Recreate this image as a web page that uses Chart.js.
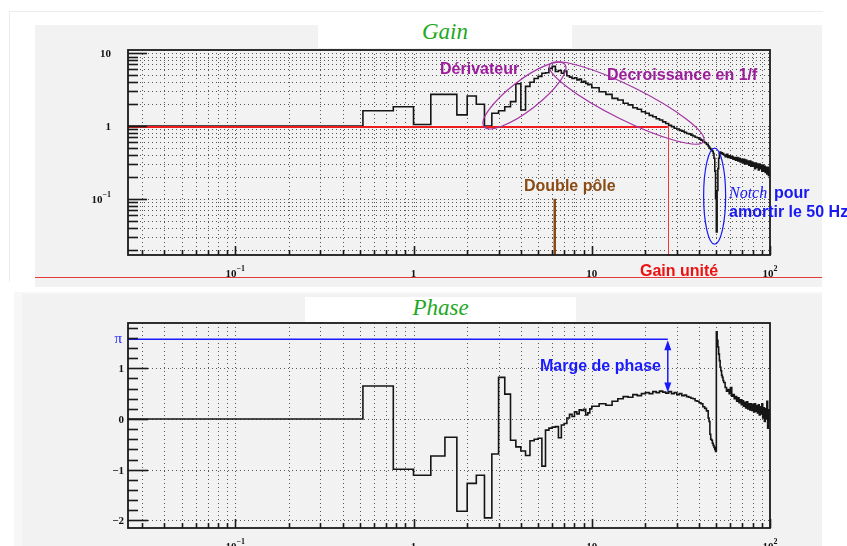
<!DOCTYPE html>
<html><head><meta charset="utf-8">
<script src="https://cdn.jsdelivr.net/npm/chart.js@4.4.0/dist/chart.umd.min.js"></script>
<style>
html,body{margin:0;padding:0;background:#fff;width:847px;height:546px;overflow:hidden;position:relative}
.abs{position:absolute}
canvas{position:absolute;left:0;top:0}
.ttl{position:absolute;text-align:center;font-family:"Liberation Serif","Times New Roman",serif;font-style:italic;color:#22a822}
</style></head><body>
<div class="abs" style="left:9px;top:11px;width:813px;height:270px;border-left:1px solid #ececec;border-top:1px solid #ececec"></div>
<div class="abs" style="left:35px;top:25px;width:787px;height:262px;background:#f2f2f2"></div>
<div class="abs" style="left:35px;top:277px;width:787px;height:1px;background:#e23a3a"></div>
<div class="abs" style="left:14px;top:292px;width:808px;height:254px;background:#f7f7f7"></div>
<div class="abs" style="left:22px;top:294px;width:800px;height:252px;background:#f2f2f2"></div>
<div class="abs" style="left:318px;top:25px;width:254px;height:23px;background:#fff"></div>
<div class="abs" style="left:305px;top:297px;width:271px;height:25px;background:#fff"></div>
<div class="ttl" style="left:318px;top:18px;width:254px;height:28px;line-height:28px;font-size:23px">Gain</div>
<div class="ttl" style="left:305px;top:294px;width:271px;height:28px;line-height:28px;font-size:23px">Phase</div>
<canvas id="gain" width="847" height="546"></canvas>
<canvas id="phase" width="847" height="546"></canvas>
<script>
// ---- data (histogram bins: left edge in Hz, value) ----
const freq = [0.025, 0.52, 0.77, 1, 1.25, 1.5, 1.75, 2, 2.25, 2.5, 2.75, 3, 3.25, 3.5, 3.75, 4, 4.25, 4.5, 4.75, 5,
  5.25, 5.5, 5.75, 6, 6.25, 6.5, 6.75, 7, 7.25, 7.5, 7.75, 8, 8.25, 8.5, 8.75, 9, 9.25, 9.5, 9.75,
  10, 11, 12, 13, 14, 15, 16, 17, 18, 19, 20, 21, 22, 23, 24, 25, 26, 27, 28, 29, 30, 31, 32, 33, 34, 35,
  36, 37, 38, 39, 40, 41, 42, 43, 44, 45,
  45.5, 46, 46.5, 47, 47.5, 48, 48.5, 49, 49.5, 50, 50.5, 51, 51.5, 52, 52.5, 53, 53.5, 54, 54.5,
  55, 56, 57, 58, 59, 60, 61, 62, 63, 64, 65, 66, 67, 68, 69, 70, 71, 72, 73, 74, 75, 76, 77,
  78, 79, 80, 81, 82, 83, 84, 85, 86, 87, 88, 89, 90, 91, 92, 93, 94, 95, 96, 97, 98, 99, 100];

const gainValues = [1.0, 1.62, 1.84, 1.05, 2.72, 2.72, 1.42, 2.58, 1.99, 1.0, 1.50, 1.62, 1.84, 2.16, 3.8, 1.66,
  3.5, 4.0, 4.5, 4.8, 5.3, 5.4, 6.2, 6.6, 5.6, 5.8, 5.3, 5.7, 4.9, 4.7, 4.5, 4.6, 4.3, 4.4, 4.0, 4.1, 3.85, 3.7, 3.75,
  3.35, 2.95, 2.72, 2.40, 2.28, 2.05, 1.95, 1.78, 1.70, 1.57, 1.50, 1.40, 1.34, 1.26, 1.21, 1.14, 1.08, 1.02,
  0.98, 0.93, 0.91, 0.87, 0.85, 0.82, 0.79, 0.78, 0.75, 0.73, 0.70, 0.69, 0.66, 0.64, 0.61, 0.59, 0.56, 0.53,
  0.51, 0.49, 0.48, 0.46, 0.45, 0.42, 0.36, 0.24, 0.10, 0.035, 0.13, 0.26, 0.36, 0.43, 0.44, 0.42, 0.43, 0.41, 0.42,
  0.40, 0.38, 0.41, 0.37, 0.39, 0.36, 0.38, 0.35, 0.37, 0.34, 0.37, 0.33, 0.36, 0.32, 0.35, 0.31, 0.35, 0.30,
  0.34, 0.30, 0.33, 0.29, 0.33, 0.28, 0.32, 0.28, 0.31, 0.26, 0.31, 0.27, 0.30, 0.25, 0.30, 0.26, 0.29, 0.24,
  0.29, 0.24, 0.28, 0.23, 0.27, 0.22, 0.27, 0.21, 0.25, 0.23];

const phaseValues = [0, 0.65, -0.99, -1.11, -0.73, -0.36, -1.82, -1.27, -1.11, -1.95, -0.69, 0.82, 0.49, -0.42,
  -0.55, -0.63, -0.72, -0.43, -0.40, -0.38, -0.93, -0.22, -0.18, -0.16, -0.15, -0.37, -0.12, -0.09, 0.02, 0.09,
  0.05, 0.14, 0.10, 0.18, 0.17, 0.19, 0.08, 0.12, 0.20,
  0.25, 0.30, 0.27, 0.35, 0.40, 0.44, 0.43, 0.48, 0.46, 0.50, 0.52, 0.50, 0.54, 0.52, 0.55, 0.53, 0.51, 0.54,
  0.50, 0.52, 0.48, 0.50, 0.46, 0.47, 0.44, 0.43, 0.41, 0.40, 0.36, 0.35, 0.32, 0.30, 0.24, 0.21, 0.16, 0.02,
  -0.05, -0.30, -0.40, -0.42, -0.48, -0.52, -0.56, -0.60, -0.64, 1.72, 1.55, 1.42, 1.28, 1.15, 1.02, 0.95, 0.86, 0.82, 0.76,
  0.72, 0.62, 0.55, 0.58, 0.50, 0.62, 0.45, 0.48, 0.40, 0.44, 0.35, 0.42, 0.32, 0.38, 0.28, 0.36, 0.25, 0.33,
  0.22, 0.34, 0.20, 0.30, 0.18, 0.30, 0.17, 0.28, 0.14, 0.30, 0.15, 0.26, 0.12, 0.28, 0.08, 0.24, 0.10, 0.30,
  0.02, 0.22, -0.05, 0.20, 0.00, 0.35, -0.18, 0.18, -0.05, 0.10];

// tick labels
const freqTicks = [0.1, 1, 10, 100];
const freqTickLabels = [['10', '\u22121'], ['1', ''], ['10', ''], ['10', '2']];
const gainTicks = [0.1, 1, 10];
const gainTickLabels = [['10', '\u22121'], ['1', ''], ['10', '']];
const phaseTicks = [-2, -1, 0, 1];
const phaseTickLabels = ['\u22122', '\u22121', '0', '1'];
const unityGainFreq = 26.7;
const doublePoleFreq = 6.2;
const phaseAtUnity = 0.52;

// ---- helpers ----
function logSteps(min, max) {
  const out = [];
  for (let d = Math.floor(Math.log10(min)); d <= Math.ceil(Math.log10(max)); d++) {
    for (let m = 1; m <= 9; m++) {
      const v = m * Math.pow(10, d);
      if (v >= min * 0.9999 && v <= max * 1.0001) out.push({ v, major: m === 1 });
    }
  }
  return out;
}
function linSteps(min, max, step, majorEvery) {
  const out = [];
  for (let k = Math.ceil(min / step - 1e-6); k * step <= max + 1e-9; k++) {
    out.push({ v: k * step, major: Math.abs(k % majorEvery) === 0 });
  }
  return out;
}
function drawGrid(chart, xs, ys) {
  const { ctx, chartArea: a, scales: { x, y } } = chart;
  ctx.save();
  ctx.beginPath(); ctx.rect(a.left, a.top, a.right - a.left, a.bottom - a.top); ctx.clip();
  ctx.strokeStyle = '#555'; ctx.lineWidth = 1; ctx.setLineDash([1, 3]);
  for (const t of xs) {
    const px = Math.round(x.getPixelForValue(t.v)) + 0.5;
    ctx.beginPath(); ctx.moveTo(px, a.bottom); ctx.lineTo(px, a.top); ctx.stroke();
  }
  for (const t of ys) {
    const py = Math.round(y.getPixelForValue(t.v)) + 0.5;
    ctx.beginPath(); ctx.moveTo(a.left, py); ctx.lineTo(a.right, py); ctx.stroke();
  }
  ctx.restore();
}
function drawFrameTicks(chart, xs, ys, yMajLen, yMinLen) {
  const { ctx, chartArea: a, scales: { x, y } } = chart;
  ctx.save();
  ctx.strokeStyle = '#1a1a1a'; ctx.lineWidth = 1.6;
  for (const t of ys) {
    const py = Math.round(y.getPixelForValue(t.v)) + 0.5;
    ctx.beginPath(); ctx.moveTo(a.left, py); ctx.lineTo(a.left + (t.major ? yMajLen : yMinLen), py); ctx.stroke();
  }
  for (const t of xs) {
    const px = Math.round(x.getPixelForValue(t.v)) + 0.5;
    ctx.beginPath(); ctx.moveTo(px, a.bottom); ctx.lineTo(px, a.bottom - (t.major ? 9 : 5)); ctx.stroke();
  }
  ctx.lineWidth = 1.8;
  ctx.strokeRect(a.left, a.top, a.right - a.left, a.bottom - a.top);
  ctx.restore();
}
function powLabel(ctx, base, exp, x, baseline, align, color) {
  const bf = 'bold 11px "Liberation Serif"', ef = 'bold 8px "Liberation Serif"';
  ctx.font = bf; const wb = ctx.measureText(base).width;
  ctx.font = ef; const we = exp ? ctx.measureText(exp).width : 0;
  const total = wb + we;
  const sx = align === 'right' ? x - total : x - total / 2;
  ctx.fillStyle = color || '#111'; ctx.textAlign = 'left'; ctx.textBaseline = 'alphabetic';
  ctx.font = bf; ctx.fillText(base, sx, baseline);
  if (exp) { ctx.font = ef; ctx.fillText(exp, sx + wb, baseline - 6); }
}
function txt(ctx, s, x, y, font, color) {
  ctx.font = font; ctx.fillStyle = color; ctx.textAlign = 'left'; ctx.textBaseline = 'alphabetic';
  ctx.fillText(s, x, y);
}
const SANS = '"Liberation Sans", Arial, sans-serif';

// ---- gain decorations ----
const gainDecor = {
  id: 'gainDecor',
  beforeDatasetsDraw(chart) {
    const { scales: { x, y } } = chart;
    drawGrid(chart, logSteps(x.min, x.max), logSteps(y.min, y.max));
  },
  afterDatasetsDraw(chart) {
    const { ctx, chartArea: a, scales: { x, y } } = chart;
    const xu = x.getPixelForValue(unityGainFreq), y1 = y.getPixelForValue(1);
    ctx.save();
    ctx.strokeStyle = '#ee1c1c'; ctx.lineWidth = 2;
    ctx.beginPath(); ctx.moveTo(a.left, y1 + 1); ctx.lineTo(xu, y1 + 1); ctx.stroke();
    ctx.lineWidth = 1; ctx.strokeStyle = '#f03a3a';
    ctx.beginPath(); ctx.moveTo(Math.round(xu) + 0.5, y1); ctx.lineTo(Math.round(xu) + 0.5, a.bottom); ctx.stroke();
    const xp = x.getPixelForValue(doublePoleFreq);
    ctx.strokeStyle = '#8a4a14'; ctx.lineWidth = 2.5;
    ctx.beginPath(); ctx.moveTo(xp, y.getPixelForValue(0.1)); ctx.lineTo(xp, a.bottom); ctx.stroke();
    ctx.strokeStyle = '#a334a3'; ctx.lineWidth = 1.2;
    ctx.beginPath(); ctx.ellipse(x.getPixelForValue(4.19), y.getPixelForValue(2.62), 51, 15, -0.656, 0, Math.PI * 2); ctx.stroke();
    ctx.beginPath(); ctx.ellipse(x.getPixelForValue(15.7), y.getPixelForValue(2.07), 86, 17, 0.46, 0, Math.PI * 2); ctx.stroke();
    ctx.strokeStyle = '#1818f0';
    ctx.beginPath(); ctx.ellipse(x.getPixelForValue(48.9), y.getPixelForValue(0.109), 11, 48, 0, 0, Math.PI * 2); ctx.stroke();
    ctx.restore();
    drawFrameTicks(chart, logSteps(x.min, x.max), logSteps(y.min, y.max), 19, 10);
    gainTicks.forEach((v, i) => powLabel(ctx, gainTickLabels[i][0], gainTickLabels[i][1], 111, y.getPixelForValue(v) + 4, 'right'));
    freqTicks.forEach((v, i) => powLabel(ctx, freqTickLabels[i][0], freqTickLabels[i][1], x.getPixelForValue(v), a.bottom + 22, 'center'));
    const B16 = 'bold 16px ' + SANS;
    txt(ctx, 'Dérivateur', 440, 74, B16, '#9c1c9c');
    txt(ctx, 'Décroissance en 1/f', 607, 80, B16, '#9c1c9c');
    txt(ctx, 'Double pôle', 524, 191, B16, '#8a4a14');
    txt(ctx, 'Gain unité', 640, 276, B16, '#ee1111');
    txt(ctx, 'Notch', 729, 198, 'italic 16px "Liberation Serif", serif', '#1818f0');
    txt(ctx, 'pour', 774, 198, B16, '#1818f0');
    txt(ctx, 'amortir le 50 Hz', 729, 217, B16, '#1818f0');
  }
};

// ---- phase decorations ----
const phaseDecor = {
  id: 'phaseDecor',
  beforeDatasetsDraw(chart) {
    const { scales: { x, y } } = chart;
    drawGrid(chart, logSteps(x.min, x.max), phaseTicks.map(v => ({ v, major: true })));
  },
  afterDatasetsDraw(chart) {
    const { ctx, chartArea: a, scales: { x, y } } = chart;
    const xu = x.getPixelForValue(unityGainFreq);
    const yPi = y.getPixelForValue(Math.PI / 2), yM = y.getPixelForValue(phaseAtUnity);
    ctx.save();
    ctx.strokeStyle = '#1a1aff'; ctx.fillStyle = '#1a1aff'; ctx.lineWidth = 1.5;
    ctx.beginPath(); ctx.moveTo(a.left, yPi); ctx.lineTo(xu, yPi); ctx.stroke();
    ctx.beginPath(); ctx.moveTo(xu, yPi + 6); ctx.lineTo(xu, yM - 6); ctx.stroke();
    ctx.beginPath(); ctx.moveTo(xu, yPi + 1); ctx.lineTo(xu - 3.5, yPi + 11); ctx.lineTo(xu + 3.5, yPi + 11); ctx.closePath(); ctx.fill();
    ctx.beginPath(); ctx.moveTo(xu, yM); ctx.lineTo(xu - 3.5, yM - 10); ctx.lineTo(xu + 3.5, yM - 10); ctx.closePath(); ctx.fill();
    ctx.restore();
    drawFrameTicks(chart, logSteps(x.min, x.max), linSteps(y.min, y.max, 0.2, 5), 20, 10);
    ctx.save();
    ctx.font = 'bold 11px "Liberation Serif"'; ctx.fillStyle = '#111'; ctx.textAlign = 'right'; ctx.textBaseline = 'alphabetic';
    phaseTicks.forEach((v, i) => ctx.fillText(phaseTickLabels[i], 124, y.getPixelForValue(v) + 4));
    ctx.font = '15px "Liberation Serif"'; ctx.fillStyle = '#1a1aff';
    ctx.fillText('\u03c0', 122, yPi + 4);
    ctx.restore();
    freqTicks.forEach((v, i) => powLabel(ctx, freqTickLabels[i][0], freqTickLabels[i][1], x.getPixelForValue(v), a.bottom + 22, 'center'));
    txt(ctx, 'Marge de phase', 540, 371, 'bold 16px ' + SANS, '#1a1aff');
  }
};

function makeChart(id, values, yScale, padding, decor) {
  return new Chart(document.getElementById(id), {
    type: 'line',
    data: { datasets: [{ data: freq.map((f, i) => ({ x: f, y: values[i] })), stepped: true,
      borderColor: '#151515', borderWidth: 1.6, pointRadius: 0, fill: false, tension: 0 }] },
    options: {
      responsive: false, animation: false, devicePixelRatio: 1, parsing: false,
      layout: { padding },
      plugins: { legend: { display: false }, tooltip: { enabled: false }, title: { display: false } },
      scales: {
        x: { type: 'logarithmic', min: 0.025, max: 100, display: false },
        y: Object.assign({ display: false }, yScale)
      }
    },
    plugins: [decor]
  });
}
makeChart('gain', gainValues, { type: 'logarithmic', min: 0.0169, max: 11.07 }, { left: 128, right: 77, top: 50, bottom: 291 }, gainDecor);
makeChart('phase', phaseValues, { type: 'linear', min: -2.15, max: 1.893 }, { left: 128, right: 77, top: 323, bottom: 18 }, phaseDecor);
</script>
</body></html>
